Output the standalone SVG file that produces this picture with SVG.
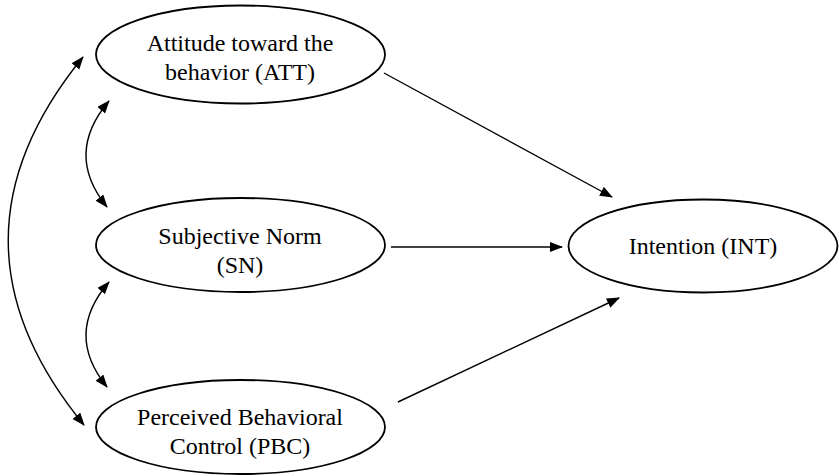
<svg xmlns="http://www.w3.org/2000/svg" width="839" height="476" viewBox="0 0 839 476">
<style>
.node ellipse{fill:#fff;stroke:#000;stroke-width:1.8}
.node text{font-family:"Liberation Serif","Times New Roman",serif;font-size:24px;fill:#000;text-anchor:middle}
.edge{fill:none;stroke:#000;stroke-width:1.4}
</style>
<defs>
<marker id="arr" markerUnits="userSpaceOnUse" markerWidth="14" markerHeight="12" viewBox="0 0 14 12" refX="12" refY="5" orient="auto-start-reverse">
<path d="M0,0 L13,5 L0,10 z" fill="#000"/>
</marker>
</defs>
<g id="connectors">
<path class="edge" d="M384,73 L612,197" marker-end="url(#arr)"/>
<path class="edge" d="M391,247 L562,247" marker-end="url(#arr)"/>
<path class="edge" d="M398,402 L619,298" marker-end="url(#arr)"/>
<path class="edge" d="M83,57 Q-67,241 84,425" marker-start="url(#arr)" marker-end="url(#arr)"/>
<path class="edge" d="M109,101 Q64,154 107,207" marker-start="url(#arr)" marker-end="url(#arr)"/>
<path class="edge" d="M109,282 Q64,334 107,387" marker-start="url(#arr)" marker-end="url(#arr)"/>
</g>
<g id="att" class="node">
<ellipse cx="240.5" cy="54.5" rx="144.5" ry="49"/>
<text x="240" y="51">Attitude toward the</text>
<text x="240" y="80">behavior (ATT)</text>
</g>
<g id="sn" class="node">
<ellipse cx="240.5" cy="245" rx="144.5" ry="47"/>
<text x="240" y="244">Subjective Norm</text>
<text x="240" y="273">(SN)</text>
</g>
<g id="pbc" class="node">
<ellipse cx="240.5" cy="427" rx="144.5" ry="47"/>
<text x="240" y="425">Perceived Behavioral</text>
<text x="240" y="454">Control (PBC)</text>
</g>
<g id="int" class="node">
<ellipse cx="703" cy="246" rx="134.5" ry="46.5"/>
<text x="703" y="254">Intention (INT)</text>
</g>
</svg>
